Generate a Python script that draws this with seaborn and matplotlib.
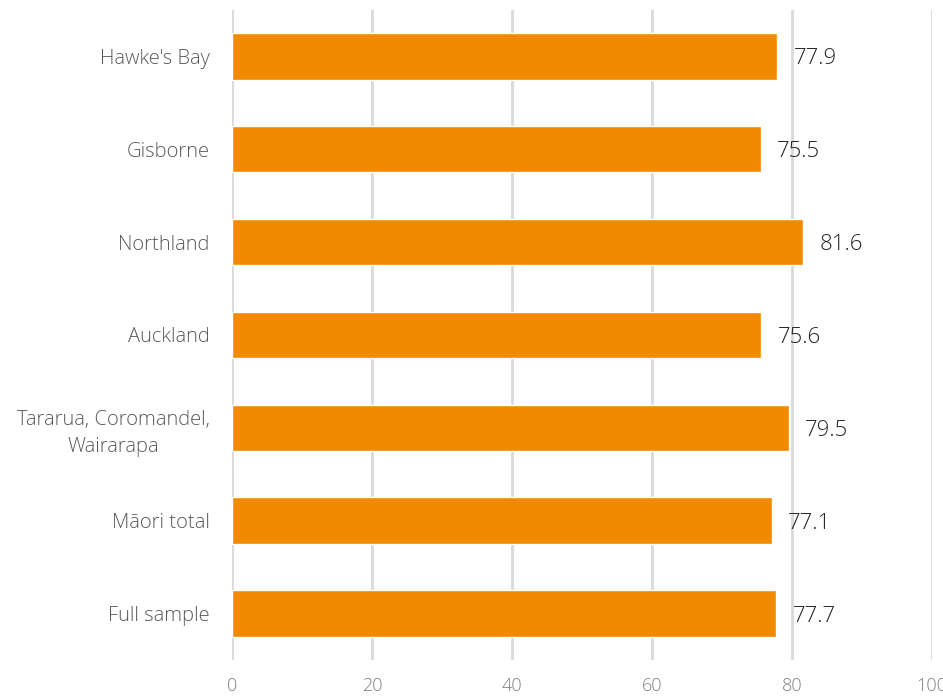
import matplotlib
matplotlib.use("Agg")
import matplotlib.pyplot as plt
import seaborn as sns
import pandas as pd

categories = ["Hawke's Bay", "Gisborne", "Northland", "Auckland",
              "Tararua, Coromandel,\nWairarapa", "Māori total", "Full sample"]
values = [77.9, 75.5, 81.6, 75.6, 79.5, 77.1, 77.7]
x_ticks = [0, 20, 40, 60, 80, 100]

sns.set_theme(style="white")
plt.rcParams['font.family'] = ['Open Sans', 'DejaVu Sans']

df = pd.DataFrame({"cat": categories, "val": values})

fig = plt.figure(figsize=(9.43, 6.99), dpi=100)
ax = fig.add_axes([232/943, 39/699, 700/943, 650/699])

sns.barplot(data=df, y="cat", x="val", orient="h", color="#F28A00",
            saturation=1, width=0.5, ax=ax, zorder=3)

ax.set_xlim(0, 100)
ax.set_ylim(6.5, -0.5)
ax.set_xticks(x_ticks)
ax.xaxis.grid(True, color="#d9d9d9", linewidth=2, zorder=0)
ax.set_axisbelow(True)
for s in ax.spines.values():
    s.set_visible(False)
ax.set_xlabel("")
ax.set_ylabel("")
ax.tick_params(axis="x", length=0, pad=12, labelsize=13, labelcolor="#7f7f7f")
ax.tick_params(axis="y", length=0, pad=16, labelsize=14.5, labelcolor="#595959")
for lbl in ax.get_yticklabels():
    lbl.set_fontweight("light")
    lbl.set_multialignment("center")
    lbl.set_linespacing(1.45)
for lbl in ax.get_xticklabels():
    lbl.set_fontweight("light")

for i, v in enumerate(values):
    ax.annotate(f"{v}", xy=(v, i), xytext=(12, 0), textcoords="offset points",
                va="center_baseline", ha="left", fontsize=16, color="#262626",
                fontweight="light")

fig.savefig("out.png", dpi=100)
